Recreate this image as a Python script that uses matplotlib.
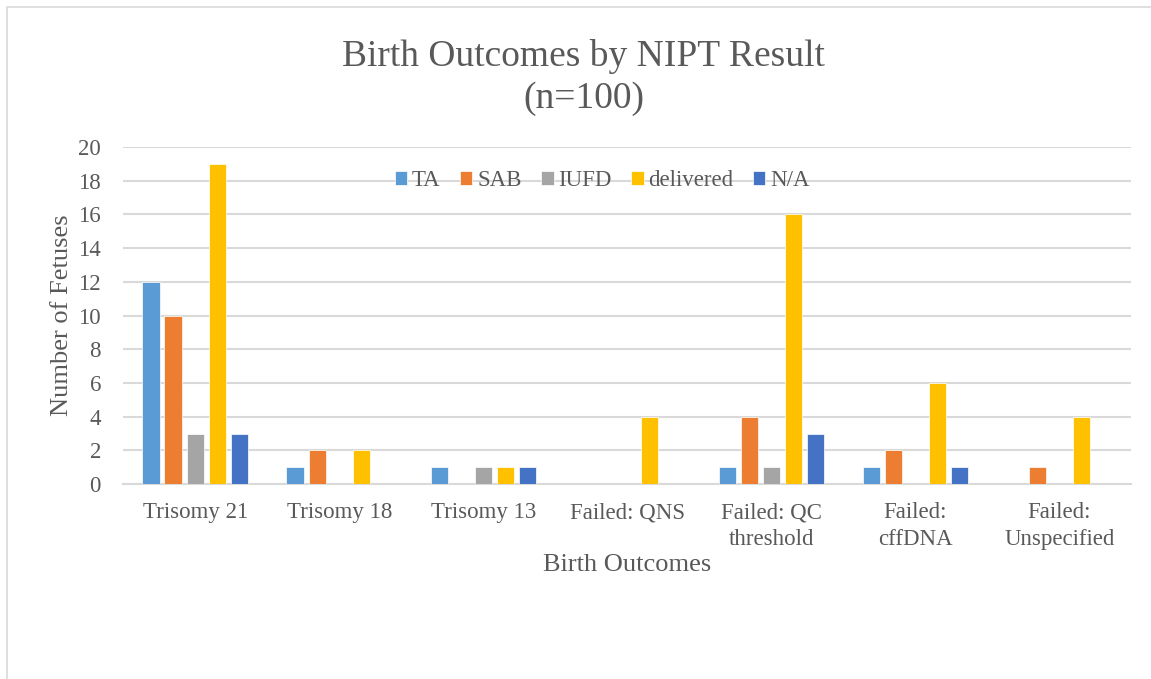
import numpy as np
import matplotlib.pyplot as plt
from matplotlib.patches import Rectangle

plt.rcParams['font.family'] = ['Liberation Serif', 'DejaVu Serif']

# data
categories = ['Trisomy 21', 'Trisomy 18', 'Trisomy 13', 'Failed: QNS',
              'Failed: QC\nthreshold', 'Failed:\ncffDNA', 'Failed:\nUnspecified']
series_names = ['TA', 'SAB', 'IUFD', 'delivered', 'N/A']
ta = [12, 1, 1, 0, 1, 1, 0]
sab = [10, 2, 0, 0, 4, 2, 1]
iufd = [3, 0, 1, 0, 1, 0, 0]
delivered = [19, 2, 1, 4, 16, 6, 4]
na = [3, 0, 1, 0, 3, 1, 0]
colors = ['#5B9BD5', '#ED7D31', '#A5A5A5', '#FFC000', '#4472C4']

txt = '#595959'
grid = '#D9D9D9'

fig = plt.figure(figsize=(11.51, 6.79), dpi=100)
ax = fig.add_axes([0.107, 0.287, 0.876, 0.4965])

x = np.arange(len(categories))
step = 0.153
width = 0.12
for i, (vals, name) in enumerate(zip([ta, sab, iufd, delivered, na], series_names)):
    ax.bar(x + (i - 2) * step, vals, width, color=colors[i], label=name,
           edgecolor='white', linewidth=0.5, zorder=3)

ax.set_xlim(-0.5, len(categories) - 0.5)
ax.set_ylim(0, 20)
ax.set_yticks(range(0, 21, 2))
ax.set_xticks(x)
ax.set_xticklabels(categories, linespacing=1.35)
ax.yaxis.grid(True, color=grid, linewidth=1.5, zorder=0)
ax.set_axisbelow(True)
for s in ['top', 'right', 'left']:
    ax.spines[s].set_visible(False)
ax.spines['bottom'].set_color(grid)
ax.spines['bottom'].set_linewidth(1.5)
ax.tick_params(axis='both', length=0, colors=txt, labelsize=16.5)
ax.tick_params(axis='x', pad=13)
ax.tick_params(axis='y', pad=16)

ax.set_xlabel('Birth Outcomes', fontsize=19, color=txt, labelpad=3)
ax.set_ylabel('Number of Fetuses', fontsize=19, color=txt, labelpad=4)

fig.text(0.507, 0.886, 'Birth Outcomes by NIPT Result\n(n=100)', ha='center', va='center',
         fontsize=27, color=txt, linespacing=1.3)

leg = ax.legend(loc='center', bbox_to_anchor=(0.475, 0.9), ncol=5, frameon=False,
                fontsize=16.5, handlelength=0.55, handleheight=0.55, handletextpad=0.2,
                columnspacing=0.85, labelcolor=txt)

fig.patches.append(Rectangle((7 / 1151, -0.1), 1.2, 1 - 7 / 679 + 0.1,
                             transform=fig.transFigure, fill=False,
                             edgecolor='#D9D9D9', linewidth=1.2))

fig.savefig('out.png', dpi=100)
